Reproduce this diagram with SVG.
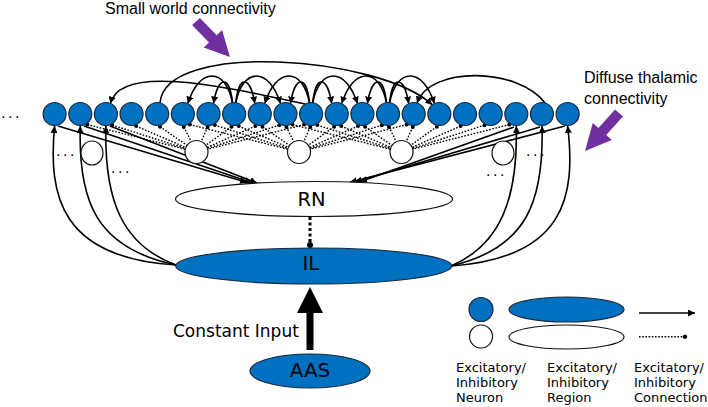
<svg xmlns="http://www.w3.org/2000/svg" width="708" height="407" viewBox="0 0 708 407">
<style>
.ex{fill:#0070C0;stroke:#1b2a3a;stroke-width:1.2}
.in{fill:#fff;stroke:#111;stroke-width:1.2}
.c{fill:none;stroke:#000;stroke-width:1.6}
.ca{fill:none;stroke:#000;stroke-width:1.6;marker-end:url(#ah)}
.d{fill:none;stroke:#000;stroke-width:1.4;stroke-dasharray:1.6 1.6}
.dot{fill:#000}
.lab{font-family:"DejaVu Sans","Liberation Sans",sans-serif;fill:#000}
.ttl{font-family:"Liberation Sans",Arial,sans-serif;font-size:16px;fill:#000}
.ell{font-family:"DejaVu Sans",sans-serif;font-size:14px;letter-spacing:2.5px;fill:#000}
.pur{fill:#7030A0}
</style>
<defs>
<marker id="ah" viewBox="0 0 10 10" refX="10" refY="5" markerWidth="7" markerHeight="7" markerUnits="userSpaceOnUse" orient="auto"><path d="M0,0 L10,5 L0,10 z" fill="#000"/></marker>
</defs>

<g id="labels">
<text class="ttl" x="105" y="14">Small world connectivity</text>
<text class="ttl" x="584" y="83">Diffuse thalamic</text>
<text class="ttl" x="584" y="104">connectivity</text>
<polygon class="pur" points="192.1,25.1 209,42.4 203.6,47.5 230,57 222.1,30.1 216.7,35.2 199.9,17.9"/>
<polygon class="pur" points="622.9,116.5 606.2,135.1 611.8,140.1 585,151 592.8,123.1 598.4,128.1 615.1,109.5"/>
<text class="ell" x="1" y="118">...</text>
<text class="ell" x="56" y="156">...</text>
<text class="ell" x="111" y="173">...</text>
<text class="ell" x="526" y="156">...</text>
<text class="ell" x="486" y="176">...</text>
<text class="lab" x="173" y="337" font-size="17">Constant Input</text>
</g>

<g id="connectors">
<!-- inhibitory dotted fans -->
<path class="d" d="M87.3,124.6L185.35,149.2M112.2,125.1L185.5,148.5M136.1,126.1L185.9,147.5M160,126.7L187,145.4M183.8,127L191.3,141.7M207.7,127L201.2,141.5M231.5,126.7L205.8,145.3M255.4,126.1L207,147.4M279.2,125.2L207.4,148.5M304.1,124.6L207.6,149.2"/>
<path class="d" d="M189.85,124.6L287.85,149.2M214.8,125.1L288,148.5M238.7,126.1L288.4,147.5M262.5,126.7L289.5,145.4M286.4,127L293.8,141.7M310.3,127L303.7,141.5M334.1,126.7L308.3,145.3M358,126.1L309.5,147.4M381.8,125.2L309.9,148.5M406.7,124.6L310.1,149.2"/>
<path class="d" d="M292.45,124.6L390.35,149.2M317.4,125.1L390.5,148.5M341.25,126.1L390.9,147.5M365.1,126.7L392,145.4M388.95,127L396.3,141.7M412.8,127L406.2,141.5M436.75,126.7L410.8,145.3M460.6,126.1L412,147.4M484.45,125.2L412.4,148.5M509.3,124.6L412.6,149.2"/>
<g class="dot">
<circle cx="87.3" cy="124.6" r="2"/><circle cx="112.2" cy="125.1" r="2"/><circle cx="136.1" cy="126.1" r="2"/><circle cx="160" cy="126.7" r="2"/><circle cx="183.8" cy="127" r="2"/><circle cx="207.7" cy="127" r="2"/><circle cx="231.5" cy="126.7" r="2"/><circle cx="255.4" cy="126.1" r="2"/><circle cx="279.2" cy="125.2" r="2"/><circle cx="304.1" cy="124.6" r="2"/>
<circle cx="189.85" cy="124.6" r="2"/><circle cx="214.8" cy="125.1" r="2"/><circle cx="238.7" cy="126.1" r="2"/><circle cx="262.5" cy="126.7" r="2"/><circle cx="286.4" cy="127" r="2"/><circle cx="310.3" cy="127" r="2"/><circle cx="334.1" cy="126.7" r="2"/><circle cx="358" cy="126.1" r="2"/><circle cx="381.8" cy="125.2" r="2"/><circle cx="406.7" cy="124.6" r="2"/>
<circle cx="292.45" cy="124.6" r="2"/><circle cx="317.4" cy="125.1" r="2"/><circle cx="341.25" cy="126.1" r="2"/><circle cx="365.1" cy="126.7" r="2"/><circle cx="388.95" cy="127" r="2"/><circle cx="412.8" cy="127" r="2"/><circle cx="436.75" cy="126.7" r="2"/><circle cx="460.6" cy="126.1" r="2"/><circle cx="484.45" cy="125.2" r="2"/><circle cx="509.3" cy="124.6" r="2"/>
</g>
<!-- neurons to RN -->
<path class="ca" d="M58,126L247,182.5"/>
<path class="ca" d="M84,126L252,182.8"/>
<path class="ca" d="M110,126L257,183"/>
<path class="ca" d="M565,126L350,182.3"/>
<path class="ca" d="M540,127L355,182"/>
<path class="ca" d="M514,127L360,181.8"/>
<!-- IL to neurons -->
<path class="ca" d="M176,265C60,258 48,195 54.6,126"/>
<path class="ca" d="M176,265C95,248 78,200 80.3,126"/>
<path class="ca" d="M176,265C122,245 104,200 105.9,126"/>
<path class="ca" d="M451,266C566,258 576,195 567.6,126"/>
<path class="ca" d="M451,266C528,248 544,200 542,126"/>
<path class="ca" d="M451,266C500,245 518,200 516.3,126"/>
<!-- small world arcs -->
<path class="ca" d="M232.5,103C229.6,75 218.3,75 213.5,103.6"/>
<path class="ca" d="M232.5,103C225.8,67 199,67 187.85,103.6"/>
<path class="ca" d="M235.8,103C238.6,75 250.1,75 254.8,103.6"/>
<path class="ca" d="M235.8,103C242.5,67 269.3,67 280.45,103.6"/>
<path class="ca" d="M309.5,103C306.6,75 295.2,75 290.45,103.6"/>
<path class="ca" d="M309.5,103C302.8,67 276,67 264.8,103.6"/>
<path class="ca" d="M312.7,103C315.6,75 327,75 331.75,103.6"/>
<path class="ca" d="M312.7,103C319.4,67 346.2,67 357.4,103.6"/>
<path class="ca" d="M386.5,103C383.6,75 372.2,75 367.4,103.6"/>
<path class="ca" d="M386.5,103C379.8,67 353,67 341.75,103.6"/>
<path class="ca" d="M389.6,103C392.5,75 404,75 408.7,103.6"/>
<path class="ca" d="M389.6,103C396.3,67 423.2,67 434.35,103.6"/>
<path class="ca" d="M305,104C230,88 120,62 110.5,103.6"/>
<path class="ca" d="M160,103C165,40 380,56 432.4,104.9"/>
<path class="ca" d="M545,103C520,68 430,65 417,103.2"/>
<!-- RN to IL -->
<path d="M310,217L310,243" fill="none" stroke="#000" stroke-width="3" stroke-dasharray="3 2.5"/>
<circle class="dot" cx="310" cy="245" r="3"/>
<!-- constant input -->
<path d="M306.5,350L306.5,313L297,313L310,287L323,313L313.5,313L313.5,350Z" fill="#000"/>
</g>

<g id="n0"><circle class="ex" cx="54.6" cy="114" r="11.5"/></g>
<g id="n1"><circle class="ex" cx="80.25" cy="114" r="11.5"/></g>
<g id="n2"><circle class="ex" cx="105.9" cy="114" r="11.5"/></g>
<g id="n3"><circle class="ex" cx="131.55" cy="114" r="11.5"/></g>
<g id="n4"><circle class="ex" cx="157.2" cy="114" r="11.5"/></g>
<g id="n5"><circle class="ex" cx="182.85" cy="114" r="11.5"/></g>
<g id="n6"><circle class="ex" cx="208.5" cy="114" r="11.5"/></g>
<g id="n7"><circle class="ex" cx="234.15" cy="114" r="11.5"/></g>
<g id="n8"><circle class="ex" cx="259.8" cy="114" r="11.5"/></g>
<g id="n9"><circle class="ex" cx="285.45" cy="114" r="11.5"/></g>
<g id="n10"><circle class="ex" cx="311.1" cy="114" r="11.5"/></g>
<g id="n11"><circle class="ex" cx="336.75" cy="114" r="11.5"/></g>
<g id="n12"><circle class="ex" cx="362.4" cy="114" r="11.5"/></g>
<g id="n13"><circle class="ex" cx="388.05" cy="114" r="11.5"/></g>
<g id="n14"><circle class="ex" cx="413.7" cy="114" r="11.5"/></g>
<g id="n15"><circle class="ex" cx="439.35" cy="114" r="11.5"/></g>
<g id="n16"><circle class="ex" cx="465" cy="114" r="11.5"/></g>
<g id="n17"><circle class="ex" cx="490.65" cy="114" r="11.5"/></g>
<g id="n18"><circle class="ex" cx="516.3" cy="114" r="11.5"/></g>
<g id="n19"><circle class="ex" cx="541.95" cy="114" r="11.5"/></g>
<g id="n20"><circle class="ex" cx="567.6" cy="114" r="11.5"/></g>

<g id="i1"><ellipse class="in" cx="92" cy="153" rx="11" ry="12"/></g>
<g id="i2"><ellipse class="in" cx="196.5" cy="152" rx="11.5" ry="11.5"/></g>
<g id="i3"><ellipse class="in" cx="299" cy="152" rx="11.5" ry="11.5"/></g>
<g id="i4"><ellipse class="in" cx="401.5" cy="152" rx="11.5" ry="11.5"/></g>
<g id="i5"><ellipse class="in" cx="503" cy="153" rx="11" ry="12"/></g>

<g id="RN"><ellipse class="in" cx="314" cy="199" rx="138.5" ry="17.5"/><text class="lab" x="311.5" y="206" font-size="19.5" text-anchor="middle">RN</text></g>
<g id="IL"><ellipse class="ex" cx="313.7" cy="266" rx="138" ry="18"/><text class="lab" x="311" y="270" font-size="20" text-anchor="middle">IL</text></g>
<g id="AAS"><ellipse class="ex" cx="310" cy="371" rx="60" ry="17"/><text class="lab" x="310" y="377" font-size="20" text-anchor="middle">AAS</text></g>

<g id="legend">
<circle class="ex" cx="481" cy="309.5" r="12"/>
<circle class="in" cx="481" cy="336.5" r="11.5"/>
<ellipse class="ex" cx="566.5" cy="309.5" rx="57.5" ry="12.5"/>
<ellipse class="in" cx="566.5" cy="337" rx="57.5" ry="12"/>
<path class="ca" d="M639,313L695,313"/>
<path class="d" d="M639,336.7L683,336.7"/>
<circle class="dot" cx="685" cy="336.7" r="2.2"/>
<text class="lab" font-size="13"><tspan x="456" y="371.5">Excitatory/</tspan><tspan x="456" y="387">Inhibitory</tspan><tspan x="456" y="402">Neuron</tspan></text>
<text class="lab" font-size="13"><tspan x="547" y="371.5">Excitatory/</tspan><tspan x="547" y="387">Inhibitory</tspan><tspan x="547" y="402">Region</tspan></text>
<text class="lab" font-size="13"><tspan x="634" y="371.5">Excitatory/</tspan><tspan x="634" y="387">Inhibitory</tspan><tspan x="634" y="402">Connection</tspan></text>
</g>
</svg>
